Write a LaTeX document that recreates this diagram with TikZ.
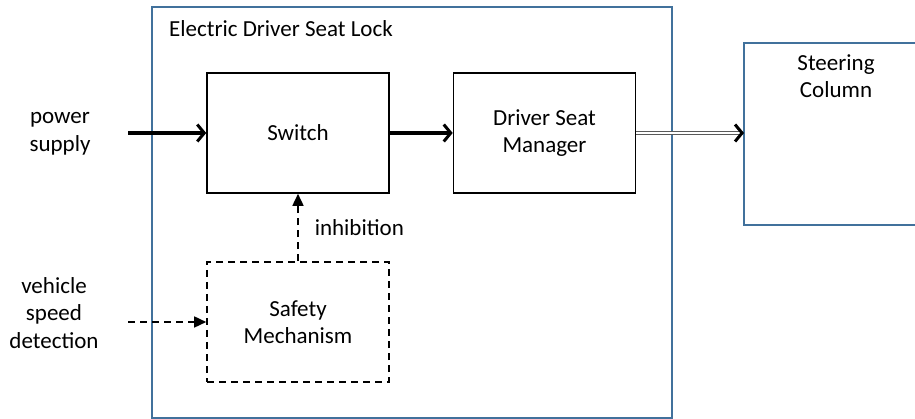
\documentclass[tikz,border=0pt]{standalone}
\usepackage{fontspec}
\setmainfont{Carlito}
\usetikzlibrary{arrows.meta,positioning}
\definecolor{frameblue}{RGB}{65,113,156}

\begin{document}
\begin{tikzpicture}[
    x=1pt, y=-1pt,
    font=\fontsize{23}{27.5}\selectfont,
    block/.style={draw, line width=1.6pt, rectangle, minimum width=182pt, minimum height=120pt, align=center, inner sep=0pt},
    dashblock/.style={block, dash pattern=on 7pt off 5pt},
    frame/.style={draw=frameblue, line width=1.4pt},
    arrow/.style={-{Straight Barb[length=7pt,width=17pt,line width=3pt]}, line width=3.2pt},
    dasharrow/.style={-{Triangle[length=12pt,width=11pt]}, line width=1.6pt, dash pattern=on 7pt off 5pt},
    dblarrow/.style={-{Straight Barb[length=7pt,width=17pt,line width=3pt,color=black]}, draw=gray!70!black, double=white, double distance=2.2pt, line width=1.1pt},
    label/.style={align=center, inner sep=0pt}
]
\clip (0,0) rectangle (915,419);

% Outer frames
\draw[frame] (152,7) rectangle (672,418);
\node[anchor=west, inner sep=0pt] (title) at (169,29) {Electric Driver Seat Lock};
\draw[frame] (744,43) rectangle (928,225);
\node[label, anchor=north] (steering) at (836,54) {Steering\\Column};
\coordinate (steerin) at (744,133);

% Blocks
\node[block] (switch) at (298,133) {Switch};
\node[block] (manager) at (544.5,133) {Driver Seat\\Manager};
\node[dashblock] (safety) at (298,322) {Safety\\Mechanism};

% Inputs
\node[label] (power) at (60,134) {power\\supply};
\node[label] (speed) at (54,313) {vehicle\\speed\\detection};
\coordinate (powerin) at (128,133);
\coordinate (speedin) at (128,322);

% Arrows
\draw[arrow] (powerin) -- (switch);
\draw[arrow] (switch) -- (manager);
\draw[dblarrow] (manager.east) -- (steerin);
\draw[dasharrow] (speedin) -- (safety);
\draw[dasharrow] (safety) -- node[right=16pt, inner sep=0pt] (inhib) {inhibition} (switch);
\end{tikzpicture}
\end{document}
